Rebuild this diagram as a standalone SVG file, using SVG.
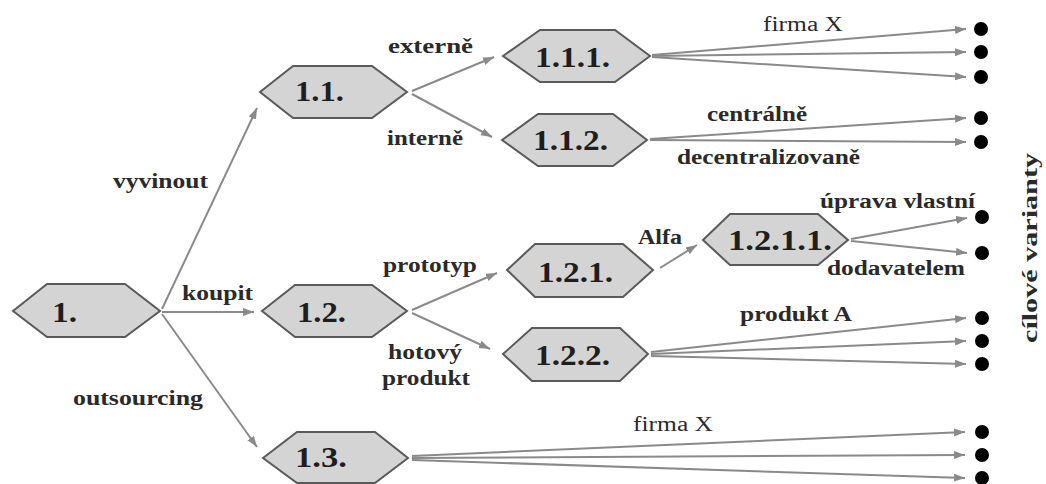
<svg xmlns="http://www.w3.org/2000/svg" width="1046" height="484" viewBox="0 0 1046 484">
<style>
.hex{fill:#d4d4d4;stroke:#5a5a5a;stroke-width:2}
.nt{font-family:"Liberation Serif","Times New Roman",serif;font-weight:bold;font-size:30px;fill:#1e1e1e}
.lb{font-family:"Liberation Serif","Times New Roman",serif;font-weight:bold;font-size:20px;fill:#2a2a2a}
.lbn{font-family:"Liberation Serif","Times New Roman",serif;font-weight:normal;font-size:20px;fill:#2a2a2a}
.ar{stroke:#8a8a8a;stroke-width:2;fill:none;marker-end:url(#ah)}
.dot{fill:#000}
</style>
<defs>
<marker id="ah" markerUnits="userSpaceOnUse" markerWidth="12" markerHeight="10" refX="11" refY="4" orient="auto">
<path d="M0,0 L11,4 L0,8 Z" fill="#8a8a8a"/>
</marker>
</defs>
<rect width="1046" height="484" fill="#ffffff"/>
<g id="connectors">
<line class="ar" x1="162" y1="309" x2="257" y2="108"/>
<line class="ar" x1="162" y1="312" x2="254" y2="312"/>
<line class="ar" x1="162" y1="314" x2="257" y2="447"/>
<line class="ar" x1="412" y1="91" x2="494" y2="57"/>
<line class="ar" x1="412" y1="94" x2="492" y2="137"/>
<line class="ar" x1="652" y1="55" x2="966" y2="29"/>
<line class="ar" x1="652" y1="56" x2="966" y2="52"/>
<line class="ar" x1="652" y1="57" x2="966" y2="77"/>
<line class="ar" x1="650" y1="139" x2="966" y2="118"/>
<line class="ar" x1="650" y1="140" x2="966" y2="142"/>
<line class="ar" x1="412" y1="310" x2="497" y2="273"/>
<line class="ar" x1="412" y1="313" x2="490" y2="349"/>
<line class="ar" x1="660" y1="268" x2="697" y2="245"/>
<line class="ar" x1="851" y1="239" x2="967" y2="218"/>
<line class="ar" x1="851" y1="241" x2="967" y2="253"/>
<line class="ar" x1="651" y1="352" x2="966" y2="318"/>
<line class="ar" x1="651" y1="354" x2="966" y2="341"/>
<line class="ar" x1="651" y1="356" x2="966" y2="364"/>
<line class="ar" x1="412" y1="456" x2="965" y2="432"/>
<line class="ar" x1="412" y1="458" x2="965" y2="455"/>
<line class="ar" x1="412" y1="460" x2="965" y2="478"/>
</g>
<g id="labels">
<text class="lb" x="113" y="188" textLength="95" lengthAdjust="spacingAndGlyphs">vyvinout</text>
<text class="lb" x="182" y="300" textLength="71" lengthAdjust="spacingAndGlyphs">koupit</text>
<text class="lb" x="73" y="405" textLength="130" lengthAdjust="spacingAndGlyphs">outsourcing</text>
<text class="lb" x="388" y="53" textLength="85" lengthAdjust="spacingAndGlyphs">externě</text>
<text class="lb" x="387" y="145" textLength="76" lengthAdjust="spacingAndGlyphs">interně</text>
<text class="lbn" x="763" y="31" textLength="80" lengthAdjust="spacingAndGlyphs">firma X</text>
<text class="lb" x="707" y="121" textLength="100" lengthAdjust="spacingAndGlyphs">centrálně</text>
<text class="lb" x="677" y="164" textLength="183" lengthAdjust="spacingAndGlyphs">decentralizovaně</text>
<text class="lb" x="383" y="272" textLength="94" lengthAdjust="spacingAndGlyphs">prototyp</text>
<text class="lb" x="388" y="359" textLength="74" lengthAdjust="spacingAndGlyphs">hotový</text>
<text class="lb" x="382" y="385" textLength="88" lengthAdjust="spacingAndGlyphs">produkt</text>
<text class="lb" x="638" y="244" textLength="44" lengthAdjust="spacingAndGlyphs">Alfa</text>
<text class="lb" x="820" y="208" textLength="155" lengthAdjust="spacingAndGlyphs">úprava vlastní</text>
<text class="lb" x="827" y="275" textLength="138" lengthAdjust="spacingAndGlyphs">dodavatelem</text>
<text class="lb" x="740" y="321" textLength="112" lengthAdjust="spacingAndGlyphs">produkt A</text>
<text class="lbn" x="633" y="431" textLength="80" lengthAdjust="spacingAndGlyphs">firma X</text>
<text class="lb" transform="translate(1037,248) rotate(-90)" x="0" y="0" text-anchor="middle" textLength="190" lengthAdjust="spacingAndGlyphs">cílové varianty</text>
</g>
<g id="n1"><polygon class="hex" points="13,311 47,284 125,284 160,311 125,337 47,337"/><text class="nt" x="52" y="322" textLength="25" lengthAdjust="spacingAndGlyphs">1.</text></g>
<g id="n1_1"><polygon class="hex" points="260,92 293,66 372,66 407,92 372,118 293,118"/><text class="nt" x="295" y="101" textLength="49" lengthAdjust="spacingAndGlyphs">1.1.</text></g>
<g id="n1_1_1"><polygon class="hex" points="503,56 540,30 615,30 650,56 615,82 540,82"/><text class="nt" x="535" y="67" textLength="75" lengthAdjust="spacingAndGlyphs">1.1.1.</text></g>
<g id="n1_1_2"><polygon class="hex" points="502,140 538,114 613,114 647,140 613,166 538,166"/><text class="nt" x="533" y="150" textLength="75" lengthAdjust="spacingAndGlyphs">1.1.2.</text></g>
<g id="n1_2"><polygon class="hex" points="262,311 295,285 372,285 407,311 372,337 295,337"/><text class="nt" x="297" y="322" textLength="49" lengthAdjust="spacingAndGlyphs">1.2.</text></g>
<g id="n1_2_1"><polygon class="hex" points="507,270 535,244 623,244 653,270 623,297 535,297"/><text class="nt" x="538" y="282" textLength="75" lengthAdjust="spacingAndGlyphs">1.2.1.</text></g>
<g id="n1_2_2"><polygon class="hex" points="503,354 532,328 620,328 648,354 620,381 532,381"/><text class="nt" x="535" y="365" textLength="75" lengthAdjust="spacingAndGlyphs">1.2.2.</text></g>
<g id="n1_2_1_1"><polygon class="hex" points="703,240 730,214 818,214 848,240 818,265 730,265"/><text class="nt" x="728" y="250" textLength="104" lengthAdjust="spacingAndGlyphs">1.2.1.1.</text></g>
<g id="n1_3"><polygon class="hex" points="263,458 297,432 375,432 408,458 375,483 297,483"/><text class="nt" x="295" y="467" textLength="52" lengthAdjust="spacingAndGlyphs">1.3.</text></g>
<g id="targets">
<circle class="dot" cx="981" cy="29" r="7"/>
<circle class="dot" cx="981" cy="52" r="7"/>
<circle class="dot" cx="981" cy="77" r="7"/>
<circle class="dot" cx="981" cy="118" r="7"/>
<circle class="dot" cx="981" cy="142" r="7"/>
<circle class="dot" cx="982" cy="217" r="7"/>
<circle class="dot" cx="982" cy="253" r="7"/>
<circle class="dot" cx="982" cy="318" r="7"/>
<circle class="dot" cx="982" cy="341" r="7"/>
<circle class="dot" cx="982" cy="364" r="7"/>
<circle class="dot" cx="982" cy="432" r="7"/>
<circle class="dot" cx="982" cy="455" r="7"/>
<circle class="dot" cx="982" cy="478" r="7"/>
</g>
</svg>
